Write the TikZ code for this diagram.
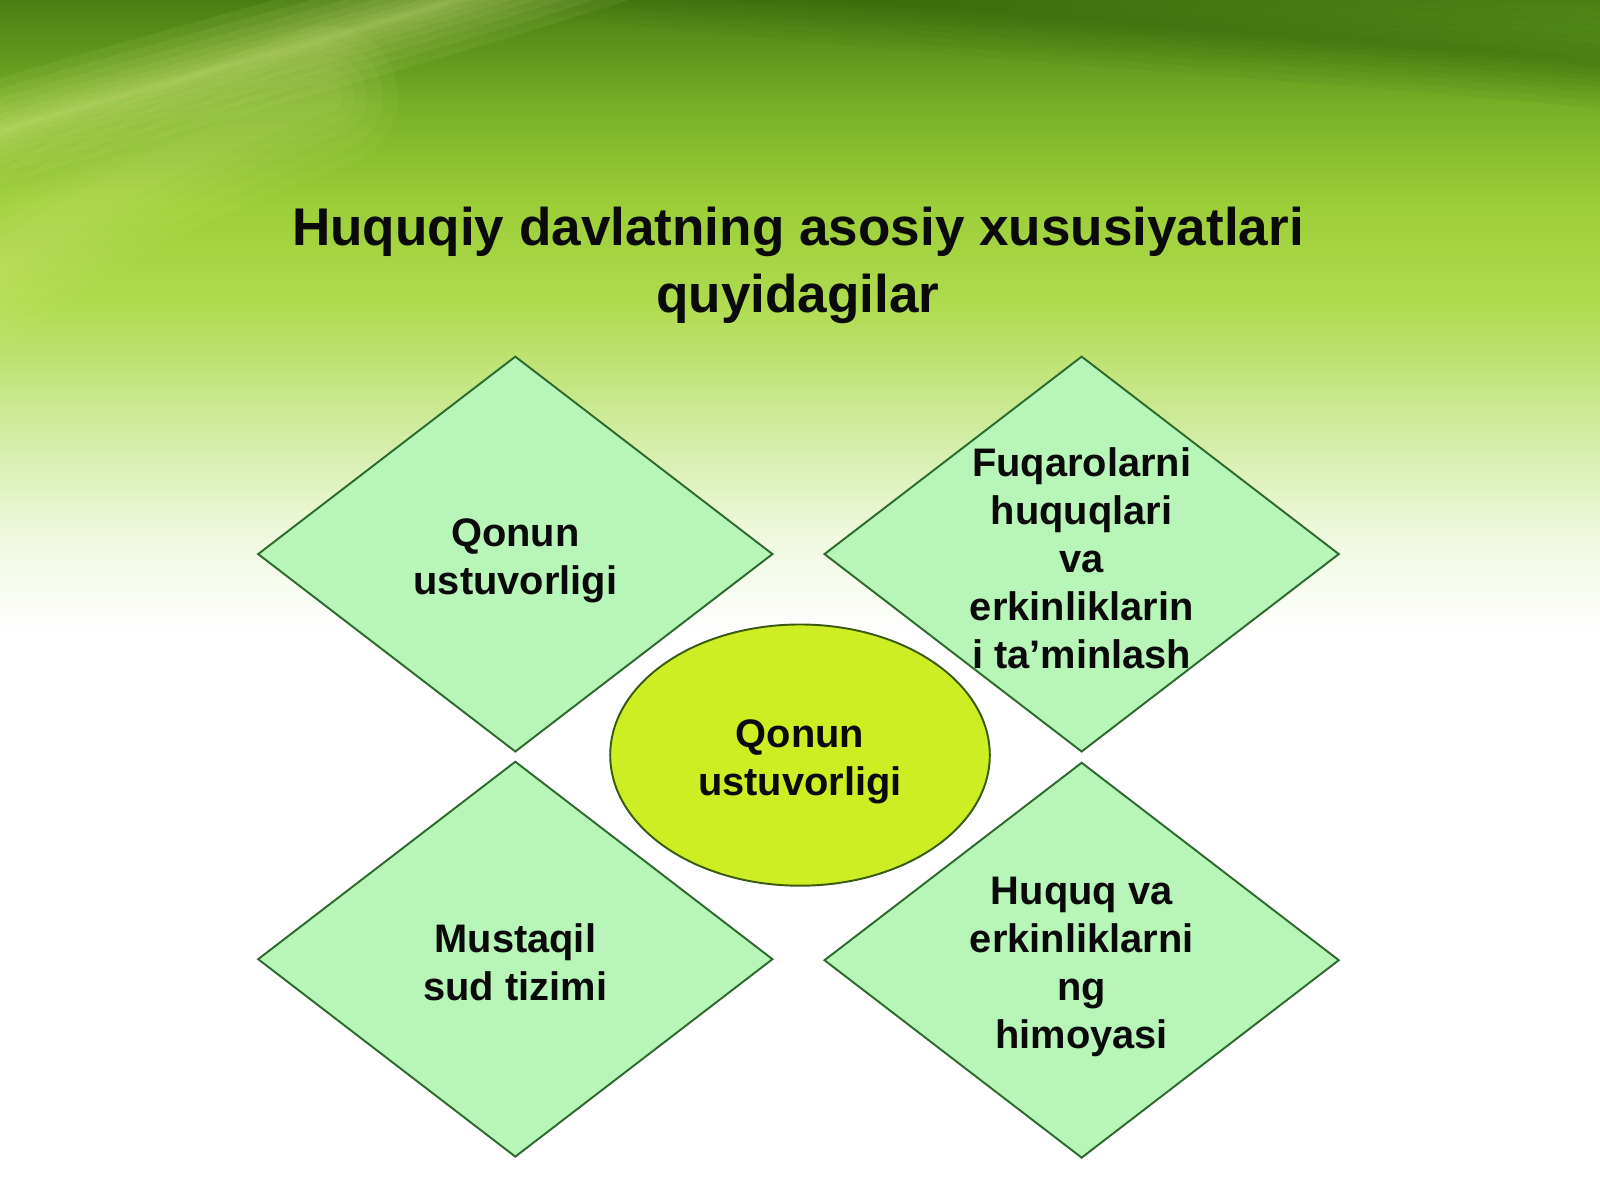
\documentclass[tikz,border=0pt]{standalone}
\usepackage{fontspec}
\setmainfont{Liberation Sans}
\definecolor{bgA}{HTML}{4A7E14}
\definecolor{bgB}{HTML}{76AE26}
\definecolor{bgC}{HTML}{9CCE38}
\definecolor{bgD}{HTML}{B0DC50}
\definecolor{bgE}{HTML}{D0ECA0}
\definecolor{bgF}{HTML}{EEF8DC}
\definecolor{streak}{HTML}{EEFA9A}
\definecolor{darktop}{HTML}{2E5A08}
\definecolor{dfill}{HTML}{B8F5B8}
\definecolor{dline}{HTML}{2D6A2D}
\definecolor{efill}{HTML}{CCEE22}
\definecolor{eline}{HTML}{3A5A10}
\definecolor{txt}{HTML}{0A0A0A}
\usetikzlibrary{shapes.geometric,calc}
\tikzset{
  diam/.style={draw=dline, fill=dfill, line width=0.55pt, line join=miter},
  dtext/.style={align=center, text=txt, inner sep=0pt,
    font=\fontsize{11.33}{13.67}\selectfont\bfseries},
  ttext/.style={align=center, text=txt, inner sep=0pt,
    font=\fontsize{15.1}{18.9}\selectfont\bfseries},
  oval/.style={ellipse, draw=eline, fill=efill, line width=0.55pt}
}
\begin{document}
\begin{tikzpicture}[x=0.10204mm,y=-0.10204mm]
\useasboundingbox (0,0) rectangle (1568,1176);
\begin{scope}
\clip (0,0) rectangle (1568,1176);
% background bands
\fill[white] (0,0) rectangle (1568,1176);
\shade[top color=bgA, bottom color=bgB] (0,0) rectangle (1568,101);
\shade[top color=bgB, bottom color=bgC] (0,100) rectangle (1568,201);
\shade[top color=bgC, bottom color=bgD] (0,200) rectangle (1568,301);
\shade[top color=bgD, bottom color=bgE] (0,300) rectangle (1568,421);
\shade[top color=bgE, bottom color=bgF] (0,420) rectangle (1568,521);
\shade[top color=bgF, bottom color=white] (0,520) rectangle (1568,621);
% dark band top right
\foreach \w in {90,75,60,48,36,26,16,8}{
  \draw[darktop, line width=\w*0.10204mm, opacity=0.06, line cap=round]
    (450,-40) .. controls (900,15) and (1350,35) .. (1650,70);
}
% light streak top left
\foreach \w in {100,80,62,46,32,20,10,4}{
  \draw[streak, line width=\w*0.10204mm, opacity=0.07, line cap=round]
    (-20,135) .. controls (120,90) and (330,40) .. (640,-60);
}
\foreach \w in {140,110,80,55,30}{
  \draw[streak, line width=\w*0.10204mm, opacity=0.05, line cap=round]
    (-20,270) .. controls (60,205) and (180,145) .. (320,95);
}
\end{scope}
% title
\node[ttext] (title) at (782,260) {Huquqiy davlatning asosiy xususiyatlari\\quyidagilar};
% diamonds
\coordinate (d1) at (505,543);
\coordinate (d2) at (1060,543);
\coordinate (d3) at (505,940);
\coordinate (d4) at (1060,941);
\foreach \c in {d1,d2,d3,d4}{
  \draw[diam] ($(\c)+(0,-193.5)$) -- ($(\c)+(252,0)$) -- ($(\c)+(0,193.5)$) -- ($(\c)+(-252,0)$) -- cycle;
}
% center ellipse
\node[oval, minimum width=372*0.10204mm, minimum height=256*0.10204mm] (center) at (784,740) {};
% texts
\node[dtext] (t1) at (505,550) {Qonun\\ustuvorligi};
\node[dtext] (t2) at (1060,547) {Fuqarolarni\\huquqlari\\va\\erkinliklarin\\i ta’minlash};
\node[dtext] (t3) at (505,943) {Mustaqil\\sud tizimi};
\node[dtext] (t4) at (1060,948) {Huquq va\\erkinliklarni\\ng\\himoyasi};
\node[dtext] (tc) at (784,747) {Qonun\\ustuvorligi};
\end{tikzpicture}
\end{document}
